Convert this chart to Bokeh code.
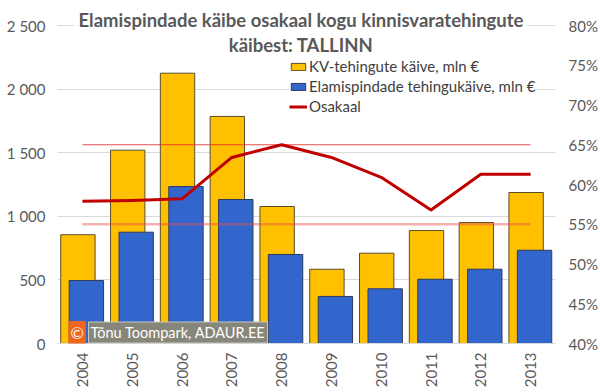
from math import pi
from bokeh.plotting import figure
from bokeh.models import (FactorRange, Range1d, LinearAxis, FixedTicker, NumeralTickFormatter,
                          Legend, LegendItem, Label, ColumnDataSource)
from bokeh.transform import dodge
from bokeh.embed import file_html
from bokeh.resources import INLINE

# ---- data ----
years = ["2004", "2005", "2006", "2007", "2008", "2009", "2010", "2011", "2012", "2013"]
kv_kaive = [855, 1520, 2125, 1785, 1077, 584, 710, 888, 951, 1187]          # KV-tehingute käive, mln €
elamis_kaive = [495, 875, 1234, 1132, 700, 370, 430, 505, 584, 733]         # Elamispindade tehingukäive, mln €
osakaal = [0.579, 0.580, 0.582, 0.634, 0.650, 0.634, 0.609, 0.568, 0.613, 0.613]  # Osakaal
ref_levels = [0.65, 0.55]
left_ticks = [0, 500, 1000, 1500, 2000, 2500]
left_tick_labels = ["0", "500", "1 000", "1 500", "2 000", "2 500"]
right_ticks = [0.40, 0.45, 0.50, 0.55, 0.60, 0.65, 0.70, 0.75, 0.80]
title_text = "Elamispindade käibe osakaal kogu kinnisvaratehingute\nkäibest: TALLINN"
legend_labels = ["KV-tehingute käive, mln €", "Elamispindade tehingukäive, mln €", "Osakaal"]
credit_text = "Tõnu Toompark, ADAUR.EE"

FONT = "Lato"
GRAY = "#595959"

# Frame spans the full height above the x axis so the title (drawn inside it) is not clipped;
# the ranges are extended so that 2 500 / 80 % sit 25 px below the top edge.
FRAME_H = 343.0
AXIS_H = 318.0
left_end = left_ticks[-1] * FRAME_H / AXIS_H
right_end = right_ticks[0] + (right_ticks[-1] - right_ticks[0]) * FRAME_H / AXIS_H

p = figure(width=600, height=392, x_range=FactorRange(*years), y_range=Range1d(0, left_end),
           output_backend="svg", toolbar_location=None,
           min_border_left=57, min_border_right=45, min_border_top=0, min_border_bottom=49)
p.extra_y_ranges = {"pct": Range1d(right_ticks[0], right_end)}
p.outline_line_color = None
p.background_fill_color = "white"
p.border_fill_color = "white"
p.xgrid.grid_line_color = None
p.ygrid.grid_line_color = "#D9D9D9"
p.ygrid.ticker = FixedTicker(ticks=left_ticks)

yl = p.left[0]
yl.ticker = FixedTicker(ticks=left_ticks)
yl.major_label_overrides = {t: s for t, s in zip(left_ticks, left_tick_labels)}
yl.axis_line_color = None
yl.major_tick_line_color = None
yl.minor_tick_line_color = None
yl.major_tick_out = 0
yl.minor_tick_out = 0
yl.major_label_text_font = FONT
yl.major_label_text_font_size = "15px"
yl.major_label_text_color = GRAY
yl.major_label_standoff = 12

yr = LinearAxis(y_range_name="pct", ticker=FixedTicker(ticks=right_ticks),
                formatter=NumeralTickFormatter(format="0%"))
yr.axis_line_color = None
yr.major_tick_line_color = None
yr.minor_tick_line_color = None
yr.major_tick_out = 0
yr.minor_tick_out = 0
yr.major_label_text_font = FONT
yr.major_label_text_font_size = "15px"
yr.major_label_text_color = GRAY
yr.major_label_standoff = 13
p.add_layout(yr, "right")

xa = p.below[0]
xa.axis_line_color = "#D9D9D9"
xa.major_tick_line_color = None
xa.minor_tick_line_color = None
xa.major_tick_out = 0
xa.minor_tick_out = 0
xa.major_label_orientation = pi / 2
xa.major_label_text_font = FONT
xa.major_label_text_font_size = "15px"
xa.major_label_text_color = GRAY
xa.major_label_standoff = 9

source = ColumnDataSource(dict(year=years, kv=kv_kaive, el=elamis_kaive, osa=osakaal))

r_kv = p.vbar(x=dodge("year", -0.09, range=p.x_range), top="kv", width=0.69, source=source,
              fill_color="#FFC000", line_color="#5A4E2A", line_width=1)
r_el = p.vbar(x=dodge("year", 0.08, range=p.x_range), top="el", width=0.69, source=source,
              fill_color="#3366CC", line_color="#2A3A5E", line_width=1)

ref_styles = [dict(line_color="#E03030", line_alpha=0.85, line_width=1),
              dict(line_color="#E85050", line_alpha=0.45, line_width=2.5)]
for lev, st in zip(ref_levels, ref_styles):
    p.segment(x0=[years[0]], y0=[lev], x1=[years[-1]], y1=[lev], y_range_name="pct", **st)

r_osa = p.line(x="year", y="osa", source=source, y_range_name="pct",
               line_color="#C00000", line_width=3, line_join="round")

legend = Legend(items=[LegendItem(label=legend_labels[0], renderers=[r_kv]),
                       LegendItem(label=legend_labels[1], renderers=[r_el]),
                       LegendItem(label=legend_labels[2], renderers=[r_osa])],
                location=(232, 228), background_fill_color="white", background_fill_alpha=1,
                border_line_color=None, label_text_font=FONT, label_text_font_size="15px",
                label_text_color="#404040", glyph_width=18, glyph_height=9, label_standoff=2,
                spacing=2, padding=3, margin=0, label_height=18)
p.add_layout(legend)

title = Label(x=243.5, y=311, x_units="screen", y_units="screen", text=title_text,
              text_align="center", text_baseline="middle", text_font=FONT,
              text_font_style="bold", text_font_size="18.5px", text_color=GRAY,
              text_line_height=1.1, background_fill_color="white", padding=4)
p.add_layout(title)

credit_box = Label(x=31, y=11, x_units="screen", y_units="screen", text=credit_text,
                   text_align="left", text_baseline="middle", text_font=FONT,
                   text_font_size="14.5px", text_color="white", background_fill_color="#86867A",
                   border_line_color="#C8C8C0", padding=2)
p.add_layout(credit_box)
credit_c = Label(x=11, y=11, x_units="screen", y_units="screen", text="©",
                 text_align="left", text_baseline="middle", text_font=FONT,
                 text_font_size="16px", text_color="white", background_fill_color="#F0661E",
                 padding=2)
p.add_layout(credit_c)

open("out.html", "w").write(file_html(p, INLINE))
